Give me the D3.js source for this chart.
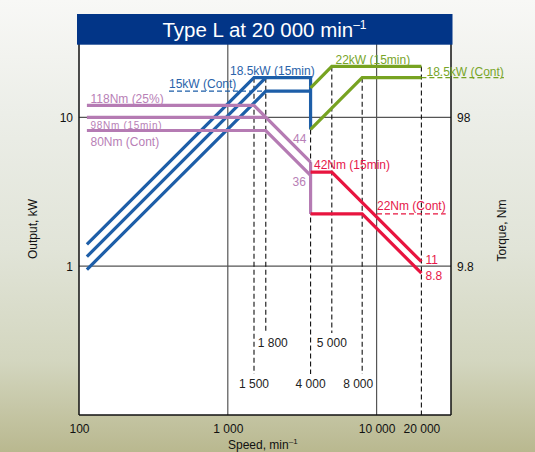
<!DOCTYPE html>
<html><head><meta charset="utf-8">
<script src="https://cdn.jsdelivr.net/npm/d3@7"></script>
<style>
html,body{margin:0;padding:0;overflow:hidden;}
svg{display:block;font-family:"Liberation Sans",Arial,Helvetica,sans-serif;}
</style></head>
<body>
<svg id="chart" width="535" height="452"></svg>
<script>
// ---- data (speed in min^-1, power in kW, torque in Nm) ----
const titleText = "Type L at 20 000 min";
const xTicks = [100, 1000, 10000, 20000];
const xTickLabels = ["100", "1 000", "10 000", "20 000"];
const yTicksKW = [1, 10];
const yTickLabelsKW = ["1", "10"];
const yTicksNm = [9.8, 98];
const yTickLabelsNm = ["9.8", "98"];

// blue: output below base speed (kW)
const power118 = [[113, 1.40], [1500, 18.5], [3600, 18.5], [3600, 8.3]];
const power98 = [[113, 1.16], [1800, 18.5]];
const power80 = [[113, 0.95], [1800, 15], [3600, 15]];
// green: output above switch speed (kW)
const power22kw = [[3600, 15.8], [5000, 22], [20000, 22]];
const power185kw = [[3600, 8.3], [8000, 18.5], [20000, 18.5]];
// purple: torque below switch speed (Nm)
const torque118 = [[113, 118], [1500, 118], [3600, 49]];
const torque98 = [[113, 98], [1800, 98]];
const torque80 = [[113, 80], [1800, 80], [3600, 40]];
const torqueDrop = [[3600, 49], [3600, 22]];
// red: torque above switch speed (Nm)
const torque42 = [[3600, 42], [5000, 42], [20000, 10.5]];
const torque22 = [[3600, 22], [8000, 22], [20000, 8.8]];

// dashed guide lines: speed, top value (kW), label, label row
const guideSpeeds = [1500, 1800, 3600, 5000, 8000, 20000];
const guideTopsKW = [18.5, 18.5, 8.3, 22, 18.5, 22];
const guideLabels = ["1 500", "1 800", "4 000", "5 000", "8 000", ""];
const guideRows = [2, 1, 2, 1, 2, 0];

const colors = {blue: "#1d5ea8", green: "#77a321", purple: "#b57bb3", red: "#e8143f",
  blueText: "#2a63aa", greenText: "#78a52a", purpleText: "#b880b6", redText: "#e6174a"};

// ---- layout ----
const L = 79, R = 451, T = 43, B = 415;
const svg = d3.select("#chart");

// background (blurred photo approximation)
const defs = svg.append("defs");
const bg = defs.append("linearGradient").attr("id", "bg").attr("x1", 0).attr("y1", 0).attr("x2", 0).attr("y2", 1);
[["0%", "#f8f8f6"], ["25%", "#eceee8"], ["55%", "#e1e4d8"], ["80%", "#d3d6bf"], ["100%", "#b9b88f"]]
  .forEach(s => bg.append("stop").attr("offset", s[0]).attr("stop-color", s[1]));
svg.append("rect").attr("width", 535).attr("height", 452).attr("fill", "url(#bg)");

const x = d3.scaleLog().domain([100, 31623]).range([L, R]);
const y = d3.scaleLog().domain([0.1, 31.62]).range([B, T]);
const yT = d3.scaleLog().domain([0.98, 309.9]).range([B, T]);

svg.append("rect").attr("x", L).attr("y", T).attr("width", R - L).attr("height", B - T).attr("fill", "#fff");

// gridlines
const grid = svg.append("g").attr("stroke", "#555").attr("stroke-width", 1.2);
[1000, 10000].forEach(v => grid.append("line").attr("x1", x(v)).attr("x2", x(v)).attr("y1", T).attr("y2", B));
yTicksKW.forEach(v => grid.append("line").attr("x1", L).attr("x2", R).attr("y1", y(v)).attr("y2", y(v)));

// dashed guides
const rowBottom = {0: B, 1: 333, 2: 374};
const rowLabel = {1: 347, 2: 388};
const labelDx = {"1 800": 7, "8 000": -4};
const guides = svg.append("g");
guideSpeeds.forEach((s, i) => {
  guides.append("line").attr("x1", x(s)).attr("x2", x(s))
    .attr("y1", y(guideTopsKW[i])).attr("y2", rowBottom[guideRows[i]])
    .attr("stroke", "#111").attr("stroke-width", 1.1).attr("stroke-dasharray", "5,3");
  if (guideLabels[i]) {
    guides.append("text").attr("x", x(s) + (labelDx[guideLabels[i]] || 0)).attr("y", rowLabel[guideRows[i]])
      .attr("text-anchor", "middle").attr("font-size", 12).attr("fill", "#222").text(guideLabels[i]);
  }
});

// axes borders
svg.append("line").attr("x1", L).attr("x2", L).attr("y1", T).attr("y2", B).attr("stroke", "#111").attr("stroke-width", 1.5);
svg.append("line").attr("x1", R).attr("x2", R).attr("y1", T).attr("y2", B).attr("stroke", "#111").attr("stroke-width", 1.5);
svg.append("line").attr("x1", L).attr("x2", R).attr("y1", B).attr("y2", B).attr("stroke", "#111").attr("stroke-width", 1.5);

// series lines
const lineKW = d3.line().x(d => x(d[0])).y(d => y(d[1]));
const lineNm = d3.line().x(d => x(d[0])).y(d => yT(d[1]));
const draw = (data, gen, color) => svg.append("path").attr("d", gen(data)).attr("fill", "none")
  .attr("stroke", color).attr("stroke-width", 3.2).attr("stroke-linejoin", "miter");
[power118, power98, power80].forEach(d => draw(d, lineKW, colors.blue));
[power22kw, power185kw].forEach(d => draw(d, lineKW, colors.green));
[torque118, torque98, torque80, torqueDrop].forEach(d => draw(d, lineNm, colors.purple));
[torque42, torque22].forEach(d => draw(d, lineNm, colors.red));

// annotation labels
const lab = (tx, ty, str, color, opts = {}) => svg.append("text").attr("x", tx).attr("y", ty)
  .attr("font-size", opts.size || 12).attr("fill", color)
  .attr("letter-spacing", opts.ls || 0).attr("text-anchor", opts.anchor || "start").text(str);

// blue
lab(230, 75, "18.5kW (15min)", colors.blueText);
lab(169, 88, "15kW (Cont)", colors.blueText);
svg.append("line").attr("x1", 169).attr("x2", x(1800)).attr("y1", y(15)).attr("y2", y(15))
  .attr("stroke", colors.blue).attr("stroke-width", 1.2).attr("stroke-dasharray", "5,3");
// green
lab(335.5, 63.5, "22kW (15min)", colors.greenText);
const g185 = lab(426.5, 76, "18.5kW (Cont)", colors.greenText);
const gw = g185.node().getComputedTextLength();
svg.append("line").attr("x1", x(20000)).attr("x2", 426.5 + gw).attr("y1", y(18.5)).attr("y2", y(18.5))
  .attr("stroke", colors.green).attr("stroke-width", 1.2).attr("stroke-dasharray", "5,3");
// purple
lab(90.5, 103, "118Nm (25%)", colors.purpleText);
lab(90.5, 129, "98Nm (15min)", colors.purpleText, {size: 10, ls: 0.7});
lab(90.5, 146, "80Nm (Cont)", colors.purpleText);
lab(293, 143, "44", colors.purpleText);
lab(292.5, 186, "36", colors.purpleText);
// red
lab(314, 168.5, "42Nm (15min)", colors.redText);
const r22 = lab(377, 210, "22Nm (Cont)", colors.redText);
const rw = r22.node().getComputedTextLength();
svg.append("line").attr("x1", 377).attr("x2", 377 + rw).attr("y1", yT(22)).attr("y2", yT(22))
  .attr("stroke", colors.red).attr("stroke-width", 1.2).attr("stroke-dasharray", "5,3");
lab(425.5, 264, "11", colors.redText);
lab(425.5, 280, "8.8", colors.redText);

// tick labels via axes
const xAxis = d3.axisBottom(x).tickValues(xTicks).tickFormat((d, i) => xTickLabels[i]).tickSize(0).tickPadding(9);
const gx = svg.append("g").attr("transform", `translate(0,${B})`).call(xAxis);
const yAxisL = d3.axisLeft(y).tickValues(yTicksKW).tickFormat((d, i) => yTickLabelsKW[i]).tickSize(0).tickPadding(6);
const gyl = svg.append("g").attr("transform", `translate(${L},0)`).call(yAxisL);
const yAxisR = d3.axisRight(yT).tickValues(yTicksNm).tickFormat((d, i) => yTickLabelsNm[i]).tickSize(0).tickPadding(6);
const gyr = svg.append("g").attr("transform", `translate(${R},0)`).call(yAxisR);
[gx, gyl, gyr].forEach(g => {
  g.select(".domain").remove();
  g.selectAll("text").attr("font-size", 12).attr("fill", "#111").attr("font-family", "'Liberation Sans',Arial,sans-serif");
});

// axis titles
svg.append("text").attr("transform", "translate(37,229) rotate(-90)").attr("text-anchor", "middle")
  .attr("font-size", 12).attr("fill", "#111").text("Output, kW");
svg.append("text").attr("transform", "translate(506,230.5) rotate(-90)").attr("text-anchor", "middle")
  .attr("font-size", 12).attr("fill", "#111").text("Torque, Nm");
const sp = svg.append("text").attr("x", 228).attr("y", 449).attr("font-size", 12).attr("fill", "#111");
sp.append("tspan").text("Speed, min");
sp.append("tspan").attr("font-size", 8).attr("dy", -5).text("–1");

// title bar
svg.append("rect").attr("x", 77).attr("y", 14).attr("width", 375.5).attr("height", 30.7).attr("fill", "#023587");
const tt = svg.append("text").attr("x", 264.5).attr("y", 37).attr("text-anchor", "middle")
  .attr("font-size", 20.5).attr("fill", "#fff");
tt.append("tspan").text(titleText);
tt.append("tspan").attr("font-size", 12).attr("dy", -8).text("–1");
</script>
</body></html>
